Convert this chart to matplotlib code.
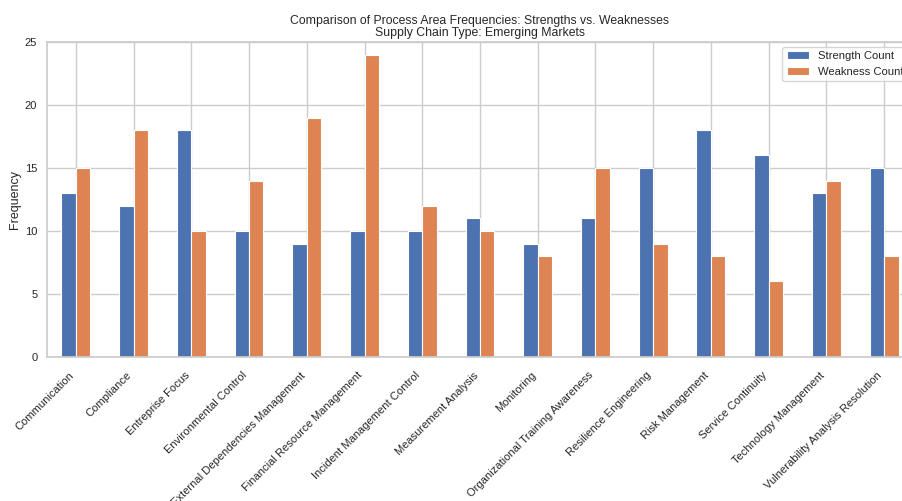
import pandas as pd
import seaborn as sns
from matplotlib import pyplot as plt

# --- Data ---
process_areas = [
    "Communication", "Compliance", "Entreprise Focus", "Environmental Control",
    "External Dependencies Management", "Financial Resource Management",
    "Incident Management Control", "Measurement Analysis", "Monitoring",
    "Organizational Training Awareness", "Resilience Engineering",
    "Risk Management", "Service Continuity", "Technology Management",
    "Vulnerability Analysis Resolution",
]
strength_count = [13, 12, 18, 10, 9, 10, 10, 11, 9, 11, 15, 18, 16, 13, 15]
weakness_count = [15, 18, 10, 14, 19, 24, 12, 10, 8, 15, 9, 8, 6, 14, 8]

# --- Styling ---
sns.set_theme(style="whitegrid")
plt.rcParams['font.family'] = ['Liberation Sans', 'DejaVu Sans']

df = pd.DataFrame(
    {"Strength Count": strength_count, "Weakness Count": weakness_count},
    index=process_areas,
)

fig = plt.figure(figsize=(9.03, 5.01), dpi=100)
# axes extends past the right edge (reference image is cropped)
ax = fig.add_axes([47 / 903, 1 - 357 / 501, 866 / 903, 315 / 501])

df.plot(kind='bar', ax=ax, color=['#4C72B0', '#DD8452'], edgecolor='white', linewidth=0.8)

ax.set_ylim(0, 25)
ax.set_ylabel("Frequency", fontsize=9, labelpad=3)
ax.set_title("Comparison of Process Area Frequencies: Strengths vs. Weaknesses\n"
             "Supply Chain Type: Emerging Markets", fontsize=8.8, pad=4, linespacing=1.0)
ax.tick_params(axis='y', labelsize=8, pad=1)
ax.tick_params(axis='x', labelsize=8)
plt.setp(ax.get_xticklabels(), rotation=45, ha='right', rotation_mode='default')
ax.legend(loc='upper right', fontsize=8.1, borderaxespad=0.4)

fig.savefig("out.png", dpi=100)
